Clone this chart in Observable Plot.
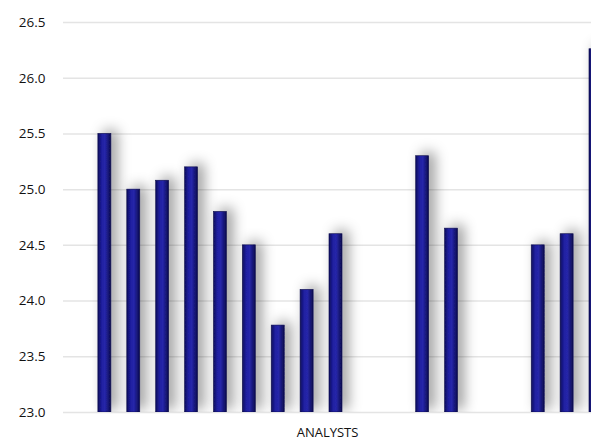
<!DOCTYPE html>
<html>
<head>
<meta charset="utf-8">
<script src="https://cdn.jsdelivr.net/npm/d3@7"></script>
<script src="https://cdn.jsdelivr.net/npm/@observablehq/plot@0.6"></script>
<style>
  html, body { margin: 0; padding: 0; background: #fff; overflow: hidden; }
  #chart svg { font-family: "Open Sans", "Noto Sans", sans-serif; }
  .bars rect { filter: url(#barShadow); }
</style>
</head>
<body>
<div id="chart"></div>
<script>
// Analyst slots along the x axis (some analysts gave no estimate)
const analysts = ["A0","A1","A2","A3","A4","A5","A6","A7","A8","A9","A10","A11","A12","A13","A14","A15","A16","A17","A18"];
// Each analyst's estimate; null where no estimate was given
const estimates = [null, 25.5, 25.0, 25.08, 25.2, 24.8, 24.5, 23.78, 24.1, 24.6, null, null, 25.3, 24.65, null, null, 24.5, 24.6, 26.26];
// Y axis ticks
const yTicks = [23.0, 23.5, 24.0, 24.5, 25.0, 25.5, 26.0, 26.5];

const rows = analysts.map((a, i) => ({analyst: a, value: estimates[i]})).filter(d => d.value != null);

const width = 591, height = 443;
const marginLeft = 63, marginTop = 22, marginBottom = 31;

const chart = Plot.plot({
  width, height,
  marginLeft, marginRight: 0, marginTop, marginBottom,
  style: {fontSize: "13px", color: "#111", background: "#fff"},
  x: {
    domain: analysts,
    range: [69, 602],
    paddingInner: 0.55,
    paddingOuter: 0,
    align: 0.5,
    round: false,
    axis: null,
    label: null
  },
  y: {domain: [23, 26.5], ticks: yTicks, tickFormat: d3.format(".1f"), label: null},
  marks: [
    Plot.gridY(yTicks, {stroke: "#e4e4e4", strokeOpacity: 1, strokeWidth: 1.5}),
    Plot.axisY(yTicks, {tickSize: 0, tickPadding: 18, tickFormat: d3.format(".1f"), fontSize: 13.5, fill: "#111", label: null}),
    Plot.rectY(rows, {
      x: "analyst",
      y1: 23,
      y2: "value",
      fill: "url(#barFill)",
      stroke: "#0c0c4a",
      strokeWidth: 0.6,
      clip: true,
      className: "bars"
    }),
    Plot.text(["ANALYSTS"], {
      frameAnchor: "bottom",
      dy: 24,
      fontSize: 13,
      fill: "#111"
    })
  ]
});

// Gradient and shadow definitions for the bars
const svg = d3.select(chart);
const defs = svg.insert("defs", ":first-child");
const grad = defs.append("linearGradient").attr("id", "barFill")
  .attr("x1", "0").attr("x2", "1").attr("y1", "0").attr("y2", "0");
grad.append("stop").attr("offset", "0%").attr("stop-color", "#0d0d5c");
grad.append("stop").attr("offset", "30%").attr("stop-color", "#1f1fa0");
grad.append("stop").attr("offset", "55%").attr("stop-color", "#2626aa");
grad.append("stop").attr("offset", "100%").attr("stop-color", "#0b0b4e");
const f = defs.append("filter").attr("id", "barShadow")
  .attr("x", "-60%").attr("y", "-20%").attr("width", "400%").attr("height", "140%");
f.append("feDropShadow").attr("dx", 6).attr("dy", -3).attr("stdDeviation", 6.5)
  .attr("flood-color", "#000").attr("flood-opacity", 0.4);

document.getElementById("chart").appendChild(chart);
</script>
</body>
</html>
